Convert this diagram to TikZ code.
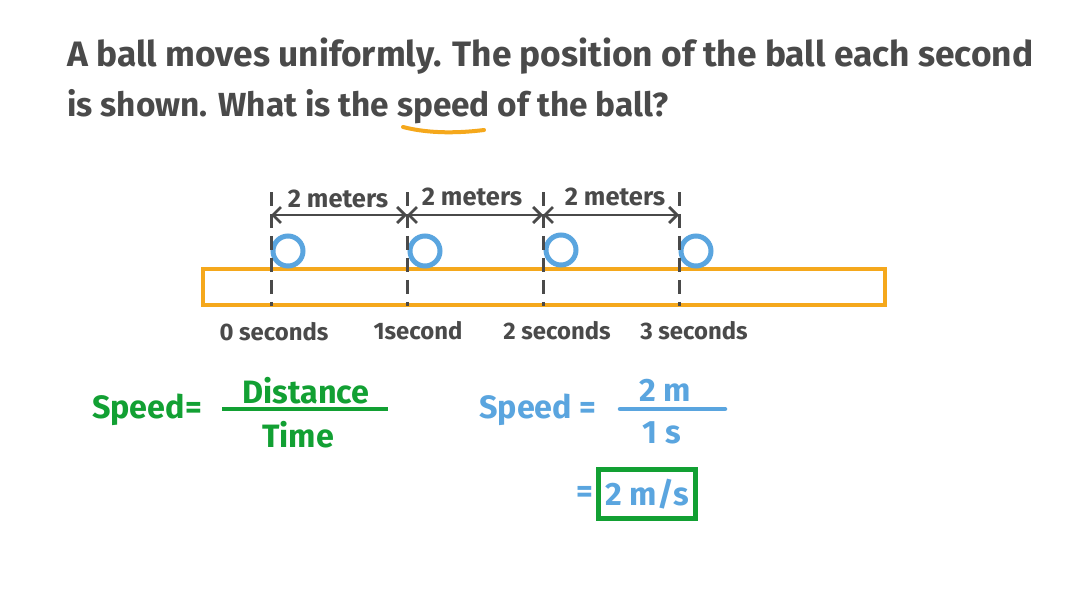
\documentclass[tikz,border=0pt]{standalone}
\usepackage{fontspec}
\usepackage{xcolor}
\setmainfont{Fira Sans}
\definecolor{inkgray}{HTML}{4A4A4A}
\definecolor{trackorange}{HTML}{F5A81C}
\definecolor{ballblue}{HTML}{5AA5DF}
\definecolor{formgreen}{HTML}{12A033}
\usetikzlibrary{positioning,calc,arrows.meta}
\tikzset{
    question/.style={anchor=west, inner sep=0pt, text=inkgray, font=\fontsize{19}{23}\selectfont\bfseries},
    meters label/.style={inner sep=0pt, text=inkgray, font=\fontsize{14.5}{18}\selectfont\bfseries},
    time label/.style={inner sep=0pt, text=inkgray, font=\fontsize{13.6}{18}\selectfont\bfseries},
    formula/.style={inner sep=0pt, font=\fontsize{18.4}{22}\selectfont\bfseries},
    ball/.style={draw=ballblue, circle, line width=0.1cm, minimum size=0.6cm, inner sep=0pt},
    guide/.style={draw=inkgray, line width=0.06cm, dash pattern=on 0.28cm off 0.16cm},
    span/.style={draw=inkgray, line width=0.055cm, {Straight Barb[length=0.16cm,width=0.32cm]}-{Straight Barb[length=0.16cm,width=0.32cm]}},
}

\begin{document}
\begin{tikzpicture}[x=0.02cm, y=-0.02cm]
    % Page
    \useasboundingbox (0,0) rectangle (1088,612);
    \fill[white] (0,0) rectangle (1088,612);

    % Question
    \node[question, font=\fontsize{20.1}{24}\selectfont\bfseries] (line1) at (67,56) {A ball moves uniformly. The position of the ball each second};
    \node[question] (line2) at (67,107) {is shown. What is the speed of the ball?};
    \coordinate (ulstart) at (403,127);
    \coordinate (ulend) at (484,130);
    \draw[trackorange, line width=0.08cm, line cap=round] (ulstart) .. controls (430,134) and (460,133) .. (ulend);

    % Track
    \node[draw=trackorange, line width=0.09cm, minimum width=13.64cm, minimum height=0.72cm, inner sep=0pt] (track) at (544,287) {};

    % Balls and guides
    \foreach \name/\x/\bx/\by in {a/271/288/251, b/407/425/251, c/543/561/250, d/679/696/251} {
        \node[ball] (ball\name) at (\bx,\by) {};
        \coordinate (top\name) at (\x,192);
        \coordinate (mid\name) at (\x,215);
        \coordinate (bot\name) at (\x,306);
        \draw[guide] (top\name) -- (bot\name);
    }

    % Distances
    \draw[span] (mida) -- (midb);
    \draw[span] (midb) -- (midc);
    \draw[span] (midc) -- (midd);
    \node[meters label] (dist1) at (338,199) {2 meters};
    \node[meters label] (dist2) at (472,197) {2 meters};
    \node[meters label] (dist3) at (615,197) {2 meters};

    % Times
    \node[time label] (time0) at (274,332) {0 seconds};
    \node[time label] (time1) at (418,331) {1second};
    \node[time label] (time2) at (557,331) {2 seconds};
    \node[time label] (time3) at (694,331) {3 seconds};

    % Green formula
    \node[formula, text=formgreen] (speedg) at (147,410) {Speed=};
    \node[formula, text=formgreen] (dist) at (306,391) {Distance};
    \node[formula, text=formgreen] (timeg) at (298,435) {Time};
    \coordinate (gbarl) at (222,409);
    \coordinate (gbarr) at (388,409);
    \draw[formgreen, line width=0.08cm] (gbarl) -- (gbarr);

    % Blue formula
    \node[formula, text=ballblue] (speedb) at (538,410) {Speed =};
    \node[formula, text=ballblue] (twom) at (665,390) {2 m};
    \node[formula, text=ballblue] (ones) at (662,433) {1 s};
    \coordinate (bbarl) at (620,409);
    \coordinate (bbarr) at (725,409);
    \draw[ballblue, line width=0.09cm, line cap=round] (bbarl) -- (bbarr);

    % Answer
    \node[draw=formgreen, line width=0.09cm, minimum width=1.94cm, minimum height=0.98cm, inner sep=0pt, formula, text=ballblue] (answer) at (647,494) {2 m/s};
    \node[formula, text=ballblue, left=0.06cm of answer] (equals) {=};
\end{tikzpicture}
\end{document}
